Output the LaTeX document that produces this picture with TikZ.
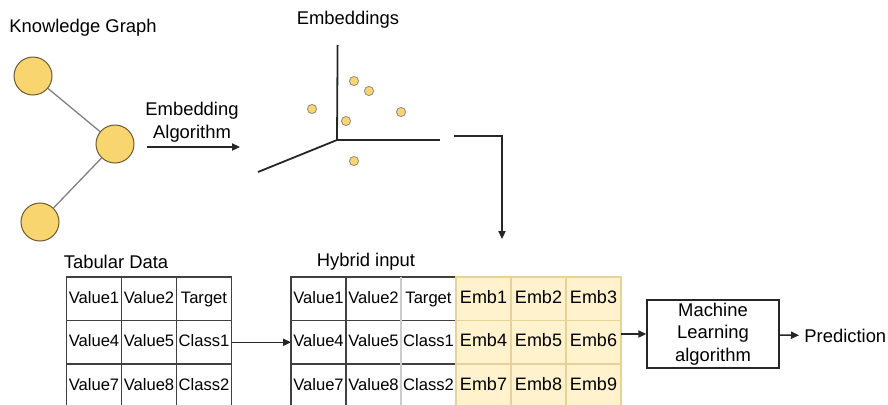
\documentclass[tikz,border=0pt]{standalone}
\usepackage{fontspec}
\setmainfont{Liberation Sans}
\usetikzlibrary{arrows.meta}
\definecolor{kgyellow}{HTML}{F8D56E}
\definecolor{kgrim}{HTML}{6A5A36}
\definecolor{embfill}{HTML}{FFF2CC}
\definecolor{embline}{HTML}{E8D29A}
\tikzset{kgnode/.style={circle, draw=kgrim, fill=kgyellow, line width=0.5pt, minimum size=19pt, inner sep=0pt},
         embpt/.style={circle, draw=black!45, fill=kgyellow, line width=0.4pt, minimum size=4.6pt, inner sep=0pt},
         lbl/.style={font=\fontsize{9.2}{11.25}\selectfont, align=center},
         cell/.style={draw=black!75, line width=0.55pt, minimum width=27.5pt, minimum height=21.75pt, inner sep=0pt, outer sep=0pt, text height=6pt, text depth=1.7pt, font=\fontsize{8.3}{10}\selectfont},
         embcell/.style={cell, draw=embline, fill=embfill, font=\fontsize{9}{11}\selectfont},
         axisline/.style={draw=black!85, line width=0.9pt},
         conn/.style={black!85, line width=0.75pt, -{Triangle[length=4pt,width=3.6pt]}}}

\begin{document}
\begin{tikzpicture}[x=0.5pt,y=-0.5pt]
       \useasboundingbox (0,0) rectangle (888,404);
       \clip (0,0) rectangle (888,404);
       % knowledge graph
       \begin{scope}
        \node[lbl] (kgtitle) at (83,28) {Knowledge Graph};
        \node[kgnode] (k1) at (33,76) {};
        \node[kgnode] (k2) at (115,144) {};
        \node[kgnode] (k3) at (40,222) {};
        \draw[black!50, line width=0.65pt] (k1) -- (k2);
        \draw[black!50, line width=0.65pt] (k2) -- (k3);
        \node[lbl] (algo) at (192,122) {Embedding\\Algorithm};
        \coordinate (a0) at (147,147);
        \coordinate (a1) at (240,147);
        \draw[conn] (a0) -- (a1);
       \end{scope}
       % embedding space
       \begin{scope}
        \node[lbl] (embtitle) at (348,20) {Embeddings};
        \coordinate (orig) at (337,140);
        \coordinate (zax) at (337.6,45);
        \coordinate (xax) at (440,140);
        \coordinate (yax) at (258,172);
        \draw[axisline] (orig) -- (zax);
        \draw[axisline] (orig) -- (xax);
        \draw[axisline] (orig) -- (yax);
        \foreach \p [count=\i] in {(354,81),(369,91),(312,109),(346,121),(401,112),(354,161)}
          \node[embpt] (p\i) at \p {};
        \coordinate (e0) at (454,136);
        \coordinate (e1) at (502,239);
        \draw[conn] (e0) -| (e1);
       \end{scope}
       % tabular data
       \node[lbl] (tabtitle) at (116,262) {Tabular Data};
       \foreach \a/\b/\c [count=\r from 0] in {Value1/Value2/Target, Value4/Value5/Class1, Value7/Value8/Class2} {
        \node[cell] (t-\r-0) at (94,{298.75+43.5*\r}) {\a};
        \node[cell] (t-\r-1) at (149,{298.75+43.5*\r}) {\b};
        \node[cell] (t-\r-2) at (204,{298.75+43.5*\r}) {\c};
       }
       % hybrid input
       \node[lbl] (hybtitle) at (366,262) {Hybrid input};
       \foreach \a/\b/\c [count=\r from 0] in {Value1/Value2/Target, Value4/Value5/Class1, Value7/Value8/Class2} {
        \node[cell] (h-\r-0) at (318.5,{298.75+43.5*\r}) {\a};
        \node[cell] (h-\r-1) at (373.5,{298.75+43.5*\r}) {\b};
        \node[cell] (h-\r-2) at (428.5,{298.75+43.5*\r}) {\c};
       }
       \draw[black!20, line width=0.9pt] (h-0-2.north west) -- (h-2-2.south west);
       \foreach \a/\b/\c [count=\r from 0] in {1/2/3, 4/5/6, 7/8/9} {
        \node[embcell] (h-\r-3) at (483.5,{298.75+43.5*\r}) {Emb\a};
        \node[embcell] (h-\r-4) at (538.5,{298.75+43.5*\r}) {Emb\b};
        \node[embcell] (h-\r-5) at (593.5,{298.75+43.5*\r}) {Emb\c};
       }
       \draw[conn] (t-1-2) -- (h-1-0);
       % model
       \node[lbl, draw=black!85, line width=0.75pt, minimum width=66pt, minimum height=34pt, inner sep=0pt] (ml) at (713,334) {Machine\\Learning\\algorithm};
       \node[lbl, anchor=west, inner sep=2.5pt] (pred) at (799,336) {Prediction};
       \draw[conn] (h-1-5.east |- ml) -- (ml);
       \draw[conn] (ml) -- (pred);
      \end{tikzpicture}
\end{document}
